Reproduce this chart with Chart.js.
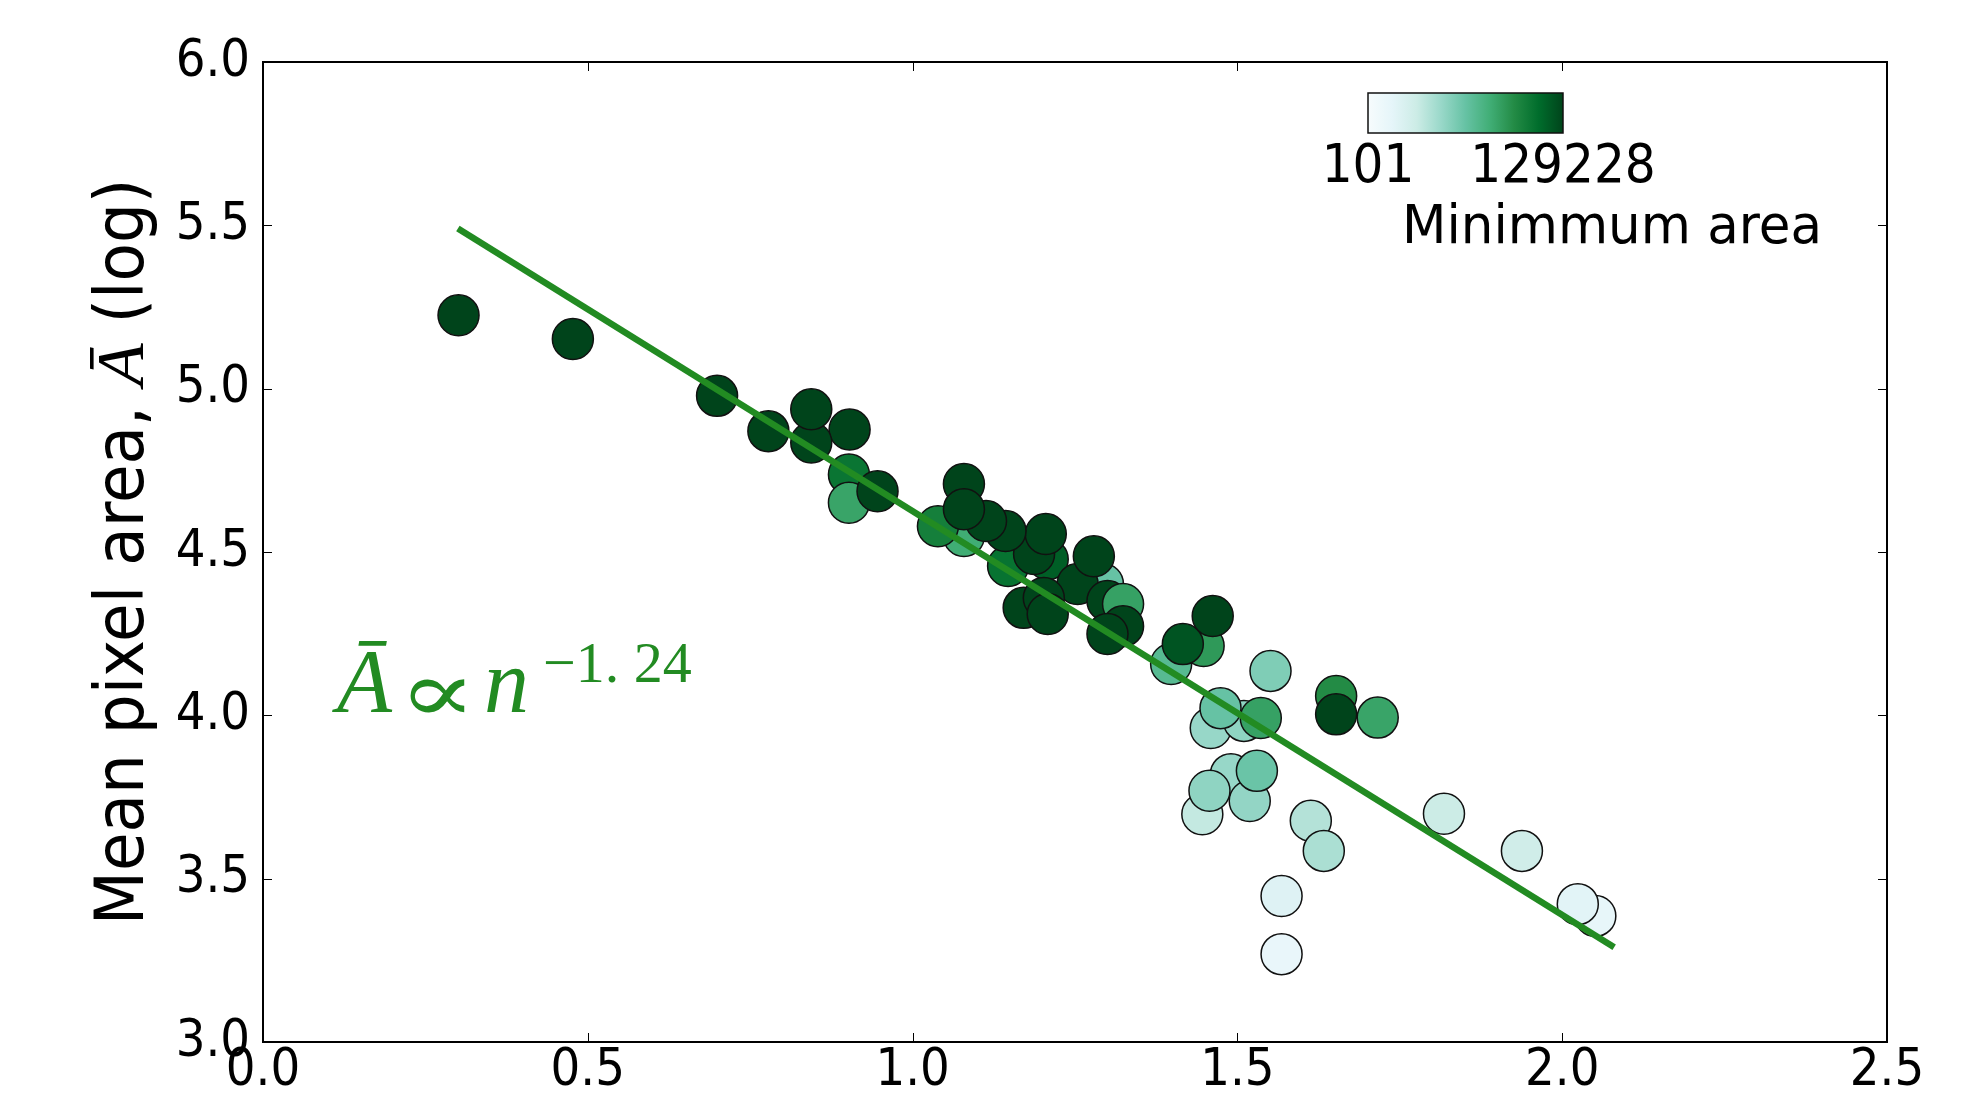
<!DOCTYPE html>
<html>
<head>
<meta charset="utf-8">
<script src="https://cdn.jsdelivr.net/npm/chart.js@4.4.1/dist/chart.umd.min.js"></script>
<style>
  html, body { margin: 0; padding: 0; background: #fff; }
  #wrap { width: 1977px; height: 1101px; }
</style>
</head>
<body>
<div id="wrap"><canvas id="scatter-chart" width="1977" height="1101"></canvas></div>
<script>
// One entry per point, in drawing order (lighter first, darker on top)
const xVals = [
    1.568, 2.051, 2.024, 1.568, 1.938, 1.818, 1.446, 1.613, 1.633, 1.459,
    1.490, 1.519, 1.457, 1.510, 1.551, 1.530, 1.474, 1.293, 1.398, 1.079,
    1.716, 1.536, 1.448, 1.652, 1.039, 0.902, 0.902, 1.147, 1.208, 1.416,
    1.652, 1.462, 1.254, 1.279, 1.171, 1.202, 1.208, 1.300, 1.324, 1.324,
    1.300, 1.187, 1.205, 1.143, 1.113, 1.079, 1.079, 0.946, 0.903, 0.844,
    0.844, 0.778, 0.699, 0.477, 0.301
];
const yVals = [
    3.269, 3.386, 3.422, 3.447, 3.585, 3.699, 3.697, 3.677, 3.585, 3.961,
    3.820, 3.738, 3.769, 3.983, 4.136, 3.830, 4.022, 4.402, 4.157, 4.549,
    3.993, 3.992, 4.212, 4.059, 4.579, 4.737, 4.651, 4.457, 4.478, 4.218,
    4.003, 4.304, 4.402, 4.487, 4.329, 4.359, 4.310, 4.350, 4.341, 4.273,
    4.249, 4.494, 4.555, 4.564, 4.595, 4.708, 4.631, 4.686, 4.875, 4.835,
    4.937, 4.870, 4.978, 5.152, 5.225
];
const minArea = [
    207, 222, 275, 317, 524, 604, 697, 928, 1070, 1531,
    1531, 1645, 1766, 1766, 2351, 3364, 3613, 3613, 5166, 9158,
    11350, 12195, 15113, 21610, 30903, 41152, 11350, 44196, 72961, 90387,
    129228, 129228, 129228, 129228, 129228, 129228, 129228, 129228, 12195, 129228,
    129228, 129228, 129228, 129228, 129228, 129228, 129228, 129228, 129228, 129228,
    129228, 129228, 129228, 129228, 129228
];

// fitted power law
const fitX = [0.30, 2.08];
const fitY = [5.49, 3.29];

const xTicks = [0.0, 0.5, 1.0, 1.5, 2.0, 2.5];
const yTicks = [3.0, 3.5, 4.0, 4.5, 5.0, 5.5, 6.0];
const areaRange = [101, 129228];
const formulaPos = { x: 0.1, y: 4.0 };

const FONT = '"DejaVu Sans Condensed", "DejaVu Sans", sans-serif';
const SERIF = '"Liberation Serif", "DejaVu Serif", serif';
const GREEN = '#228B22';

// matplotlib BuGn
const bugn = ['#f7fcfd', '#e5f5f9', '#ccece6', '#99d8c9', '#66c2a4', '#41ae76', '#238b45', '#006d2c', '#00441b'];

function hexToRgb(h) {
    return [parseInt(h.slice(1, 3), 16), parseInt(h.slice(3, 5), 16), parseInt(h.slice(5, 7), 16)];
}

function bugnColor(t) {
    t = Math.min(1, Math.max(0, t));
    const pos = t * (bugn.length - 1);
    const i = Math.min(Math.floor(pos), bugn.length - 2);
    const f = pos - i;
    const a = hexToRgb(bugn[i]), b = hexToRgb(bugn[i + 1]);
    const c = a.map((v, k) => Math.round(v + (b[k] - v) * f));
    return `rgb(${c[0]}, ${c[1]}, ${c[2]})`;
}

function areaToT(a) {
    const lo = Math.log10(areaRange[0]), hi = Math.log10(areaRange[1]);
    return (Math.log10(a) - lo) / (hi - lo);
}

const points = xVals.map((x, i) => ({ x: x, y: yVals[i] }));
const pointColors = minArea.map(a => bugnColor(areaToT(a)));
const fitLine = fitX.map((x, i) => ({ x: x, y: fitY[i] }));

// draw text so that its ink starts at left (bbox-based)
function inkText(ctx, text, font, left, baseline) {
    ctx.font = font;
    const m = ctx.measureText(text);
    ctx.fillText(text, left + m.actualBoundingBoxLeft, baseline);
}

// text stretched along its own direction
function stretchedText(ctx, text, cx, baseline, sx) {
    ctx.save();
    ctx.translate(cx, baseline);
    ctx.scale(sx, 1);
    ctx.fillText(text, 0, 0);
    ctx.restore();
}

// frame, inward ticks, colorbar, formula and y title
const extrasPlugin = {
    id: 'extras',
    afterDraw(chart) {
        const { ctx, chartArea: a, scales: { x, y } } = chart;
        ctx.save();

        // inward ticks on all four sides
        ctx.strokeStyle = '#000';
        ctx.lineWidth = 1;
        ctx.beginPath();
        xTicks.forEach(v => {
            const px = Math.round(x.getPixelForValue(v)) + 0.5;
            ctx.moveTo(px, a.bottom); ctx.lineTo(px, a.bottom - 9);
            ctx.moveTo(px, a.top); ctx.lineTo(px, a.top + 9);
        });
        yTicks.forEach(v => {
            const py = Math.round(y.getPixelForValue(v)) + 0.5;
            ctx.moveTo(a.left, py); ctx.lineTo(a.left + 9, py);
            ctx.moveTo(a.right, py); ctx.lineTo(a.right - 9, py);
        });
        ctx.stroke();

        ctx.lineWidth = 2;
        ctx.strokeRect(a.left, a.top, a.right - a.left, a.bottom - a.top);

        // colorbar
        const cb = { left: 1368, top: 93, width: 195, height: 40 };
        const grad = ctx.createLinearGradient(cb.left, 0, cb.left + cb.width, 0);
        bugn.forEach((c, i) => grad.addColorStop(i / (bugn.length - 1), c));
        ctx.fillStyle = grad;
        ctx.fillRect(cb.left, cb.top, cb.width, cb.height);
        ctx.lineWidth = 1.5;
        ctx.strokeStyle = '#111';
        ctx.strokeRect(cb.left, cb.top, cb.width, cb.height);

        ctx.fillStyle = '#000';
        ctx.font = `54px ${FONT}`;
        ctx.textAlign = 'center';
        ctx.textBaseline = 'alphabetic';
        ctx.fillText(String(areaRange[0]), cb.left, 182);
        ctx.fillText(String(areaRange[1]), cb.left + cb.width, 182);
        stretchedText(ctx, 'Minimmum area', 1612, 243, 1.06);

        // formula  A ∝ n^-1.24
        const fx = x.getPixelForValue(formulaPos.x);
        const fy = y.getPixelForValue(formulaPos.y) - 3;
        ctx.fillStyle = GREEN;
        ctx.textAlign = 'left';
        inkText(ctx, '\u0100', `italic 90px ${SERIF}`, fx + 4, fy);
        inkText(ctx, 'n', `italic 90px ${SERIF}`, fx + 159, fy);
        inkText(ctx, '\u22121. 24', `58px ${SERIF}`, fx + 217, fy - 30);

        // proportional sign, fitted into its box
        ctx.font = '110px "DejaVu Serif", serif';
        const pm = ctx.measureText('\u221D');
        const pw = pm.actualBoundingBoxLeft + pm.actualBoundingBoxRight;
        const ph = pm.actualBoundingBoxAscent + pm.actualBoundingBoxDescent;
        ctx.save();
        ctx.translate(fx + 82, fy - 33);
        ctx.scale(55 / pw, 34 / ph);
        ctx.fillText('\u221D', pm.actualBoundingBoxLeft, pm.actualBoundingBoxAscent);
        ctx.restore();

        // y axis title
        ctx.fillStyle = '#000';
        ctx.translate(143, (a.top + a.bottom) / 2);
        ctx.rotate(-Math.PI / 2);
        ctx.scale(1.042, 1);
        const pieces = [
            { t: 'Mean pixel area, ', f: `67px ${FONT}` },
            { t: '\u0100', f: `italic 67px ${SERIF}` },
            { t: ' (log)', f: `67px ${FONT}` }
        ];
        let total = 0;
        pieces.forEach(p => { ctx.font = p.f; p.w = ctx.measureText(p.t).width; total += p.w; });
        let cx = -total / 2;
        pieces.forEach(p => { ctx.font = p.f; ctx.fillText(p.t, cx, 0); cx += p.w; });

        ctx.restore();
    }
};

document.addEventListener('DOMContentLoaded', () => {
    const ctx = document.getElementById('scatter-chart').getContext('2d');
    new Chart(ctx, {
        type: 'scatter',
        data: {
            datasets: [{
                type: 'line',
                data: fitLine,
                borderColor: GREEN,
                borderWidth: 6.5,
                pointRadius: 0,
                fill: false,
                showLine: true
            }, {
                data: points,
                backgroundColor: pointColors,
                borderColor: '#111',
                borderWidth: 1.5,
                pointRadius: 20.5,
                pointHoverRadius: 20.5
            }]
        },
        options: {
            responsive: false,
            animation: false,
            devicePixelRatio: 1,
            layout: { padding: { top: 62, right: 90, left: 0, bottom: 0 } },
            plugins: {
                legend: { display: false },
                tooltip: { enabled: false }
            },
            scales: {
                x: {
                    type: 'linear',
                    min: xTicks[0],
                    max: xTicks[xTicks.length - 1],
                    grid: { display: false, drawTicks: false },
                    border: { display: false },
                    afterBuildTicks: s => { s.ticks = xTicks.map(v => ({ value: v })); },
                    afterFit: s => { s.height = 59; },
                    ticks: {
                        autoSkip: false,
                        maxRotation: 0,
                        padding: 3,
                        color: '#000',
                        font: { family: FONT, size: 52, lineHeight: 1 },
                        callback: v => v.toFixed(1)
                    }
                },
                y: {
                    type: 'linear',
                    min: yTicks[0],
                    max: yTicks[yTicks.length - 1],
                    grid: { display: false, drawTicks: false },
                    border: { display: false },
                    afterBuildTicks: s => { s.ticks = yTicks.map(v => ({ value: v })); },
                    afterFit: s => { s.width = 263; },
                    ticks: {
                        autoSkip: false,
                        padding: 13,
                        color: '#000',
                        font: { family: FONT, size: 52, lineHeight: 1 },
                        callback: v => v.toFixed(1)
                    }
                }
            }
        },
        plugins: [extrasPlugin]
    });
});
</script>
</body>
</html>
